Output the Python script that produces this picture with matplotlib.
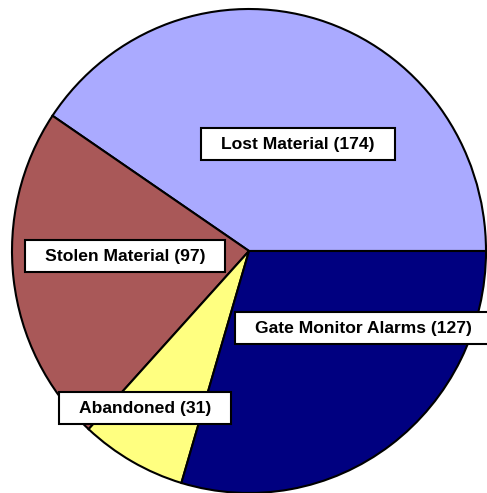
import matplotlib.pyplot as plt
from matplotlib.patches import Rectangle

# --- data ---
categories = ["Lost Material", "Stolen Material", "Abandoned", "Gate Monitor Alarms"]
counts = [174, 97, 31, 127]
colors = ["#AAAAFF", "#A95858", "#FFFF80", "#000080"]

# label centres in figure pixels (from top-left) - layout only
label_pos = [(298, 144), (125, 256), (145, 408), (363, 328)]

W, H = 487, 493
fig = plt.figure(figsize=(W / 100, H / 100), dpi=100)
ax = fig.add_axes([0, 0, 1, 1])

ax.pie(counts, colors=colors, startangle=0, counterclock=True,
       wedgeprops=dict(edgecolor="black", linewidth=1.5))
ax.set_aspect("auto")

# pie centre at (249, 251) px, radius ~237 px wide, ~242 px tall
cx_px, cy_px = 249, 251
ax.set_xlim(-cx_px / 237, (W - cx_px) / 237)
ax.set_ylim(-(H - cy_px) / 242, cy_px / 242)
ax.axis("off")

texts = []
for cat, n, (px, py) in zip(categories, counts, label_pos):
    t = fig.text(px / W, 1 - py / H, f"{cat} ({n})", ha="center", va="center",
                 fontsize=12.6, fontweight="bold", family="Liberation Sans",
                 color="black", zorder=5)
    texts.append(t)

fig.canvas.draw()
renderer = fig.canvas.get_renderer()
for t in texts:
    bb = t.get_window_extent(renderer)
    cx = (bb.x0 + bb.x1) / 2
    cy = (bb.y0 + bb.y1) / 2
    bw = bb.width + 40
    bh = 32
    rect = Rectangle(((cx - bw / 2) / W, (cy - bh / 2) / H), bw / W, bh / H,
                     transform=fig.transFigure, facecolor="white",
                     edgecolor="black", linewidth=1.5, zorder=4)
    fig.patches.append(rect)

fig.savefig("out.png", dpi=100)
